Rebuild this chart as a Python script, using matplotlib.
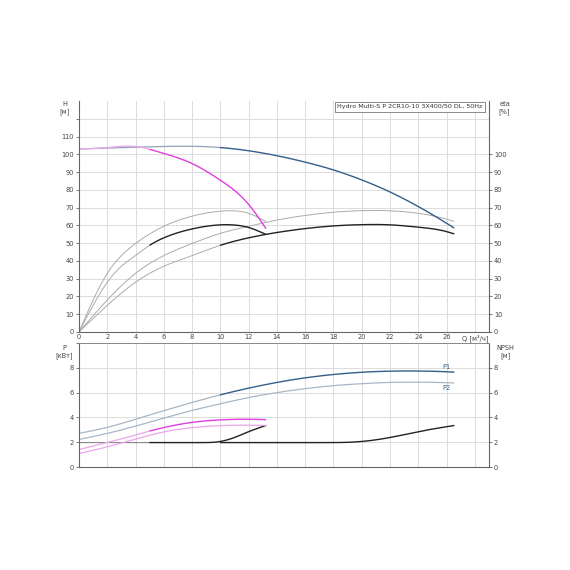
import numpy as np
import matplotlib
matplotlib.use("Agg")
import matplotlib.pyplot as plt

# flow points, m3/h
q_h1 = [0, 2, 4, 5, 6, 8, 10, 12, 13.2]
h_1pump = [103, 103.8, 104.4, 102.8, 100.5, 94.8, 85.4, 71.8, 58.5]
q_h2 = [0, 2, 4, 6, 8, 10, 12, 14, 16, 18, 20, 22, 24, 26, 26.5]
h_2pump = [103, 103.5, 104.0, 104.4, 104.5, 103.8, 102.0, 99.2, 95.6, 91.2, 85.6, 78.8, 70.6, 61.2, 58.7]

# efficiency, %
q_e1 = [0, 1, 2, 3, 4, 6, 8, 10, 11, 12, 13.2]
eta_1pump = [0, 18, 33, 43, 49.8, 59.5, 65.2, 68.0, 68.2, 66.8, 62.2]
q_et1 = [0, 1, 2, 3, 4, 5, 6, 8, 10, 11, 12, 13.2]
etatot_1pump = [0, 15, 28, 37, 43, 48.8, 53.0, 58.0, 60.3, 60.2, 58.8, 55]
q_e2 = [0, 2, 4, 6, 8, 10, 12, 14, 16, 18, 20, 22, 24, 26, 26.5]
eta_2pump = [0, 18, 33, 43, 49.8, 55.5, 59.5, 63.0, 65.6, 67.4, 68.3, 68.2, 66.8, 63.5, 62.3]
q_et2 = [0, 2, 4, 6, 8, 10, 12, 14, 16, 18, 20, 22, 24, 26, 26.5]
etatot_2pump = [0, 15, 28, 37.0, 43.0, 48.8, 53.0, 56.0, 58.2, 59.7, 60.4, 60.3, 59.0, 56.5, 55.3]

# power, kW
q_p = [0, 2, 4, 6, 8, 10, 12, 14, 16, 18, 20, 22, 24, 26, 26.5]
p1_2pump = [2.71, 3.2, 3.85, 4.54, 5.2, 5.82, 6.36, 6.82, 7.19, 7.46, 7.64, 7.73, 7.74, 7.68, 7.65]
p2_2pump = [2.22, 2.71, 3.3, 3.94, 4.56, 5.1, 5.6, 6.0, 6.32, 6.56, 6.72, 6.82, 6.84, 6.8, 6.78]
q_p1 = [0, 2, 4, 5, 6, 8, 10, 12, 13.2]
p1_1pump = [1.41, 1.98, 2.58, 2.9, 3.18, 3.6, 3.8, 3.85, 3.82]
p2_1pump = [1.08, 1.63, 2.25, 2.56, 2.83, 3.17, 3.34, 3.37, 3.35]

# NPSH, m
q_n1 = [0, 5, 8, 9, 9.5, 10, 11, 12, 13.2]
npsh_1pump = [1.97, 1.97, 1.97, 1.97, 1.99, 2.06, 2.38, 2.85, 3.34]
q_n2 = [0, 10, 16, 18, 19, 20, 22, 24, 26.5]
npsh_2pump = [1.97, 1.97, 1.97, 1.97, 1.99, 2.06, 2.38, 2.85, 3.34]

title = "Hydro Multi-S P 2CR10-10 3X400/50 DL, 50Hz"

blue = "#335f8a"
blue_f = "#8ea3b8"
mag = "#e03ee0"
mag_f = "#eaa6ea"
grey = "#ababab"
dark = "#222222"
pcol = "#a8b6c6"


def spline(x, y, n=300):
    # natural cubic spline through the read points
    x = np.asarray(x, float)
    y = np.asarray(y, float)
    k = len(x)
    h = np.diff(x)
    A = np.zeros((k, k))
    r = np.zeros(k)
    A[0, 0] = A[-1, -1] = 1
    for i in range(1, k - 1):
        A[i, i - 1] = h[i - 1]
        A[i, i] = 2 * (h[i - 1] + h[i])
        A[i, i + 1] = h[i]
        r[i] = 6 * ((y[i + 1] - y[i]) / h[i] - (y[i] - y[i - 1]) / h[i - 1])
    M = np.linalg.solve(A, r)
    xs = np.linspace(x[0], x[-1], n)
    j = np.clip(np.searchsorted(x, xs) - 1, 0, k - 2)
    t0 = x[j + 1] - xs
    t1 = xs - x[j]
    hj = h[j]
    ys = (M[j] * t0 ** 3 + M[j + 1] * t1 ** 3) / (6 * hj) \
        + (y[j] / hj - M[j] * hj / 6) * t0 + (y[j + 1] / hj - M[j + 1] * hj / 6) * t1
    return xs, ys


def seg(ax, x, y, x0, x1, **kw):
    xs, ys = spline(x, y)
    m = (xs >= x0 - 1e-9) & (xs <= x1 + 1e-9)
    ax.plot(xs[m], ys[m], **kw)


fig = plt.figure(figsize=(5.7, 5.7), dpi=100)
L, W = 79 / 570, 410 / 570
ax1 = fig.add_axes([L, 1 - 332 / 570, W, 231 / 570])
ax2 = fig.add_axes([L, 1 - 467 / 570, W, 124 / 570])

fs = 4.8
tc = "#444444"

for ax in (ax1, ax2):
    ax.set_xlim(0, 29)
    ax.set_xticks(np.arange(0, 29, 2))
    ax.grid(True, color="#dcdcdc", lw=0.7)
    ax.set_axisbelow(True)
    for s in ("left", "right", "bottom"):
        ax.spines[s].set_color("#666666")
        ax.spines[s].set_linewidth(0.8)
    ax.tick_params(labelsize=fs, colors=tc, length=2, width=0.5, pad=1.5)

# top panel: head and efficiency
ax1.set_ylim(0, 130)
ax1.set_yticks(np.arange(0, 121, 10))
ax1.set_yticklabels([str(v) if v <= 110 else "" for v in range(0, 121, 10)])
ax1.spines["top"].set_visible(False)
ax1.set_xticklabels([str(v) for v in range(0, 28, 2)] + ["Q [м³/ч]"])
ax1.tick_params(axis="x", length=0, pad=1.5)

seg(ax1, q_e1, eta_1pump, 0, 13.2, color=grey, lw=0.7)
seg(ax1, q_e2, eta_2pump, 0, 26.5, color=grey, lw=0.7)
seg(ax1, q_et1, etatot_1pump, 0, 5, color=grey, lw=0.7)
seg(ax1, q_et1, etatot_1pump, 5, 13.2, color=dark, lw=1.0)
seg(ax1, q_et2, etatot_2pump, 0, 10, color=grey, lw=0.7)
seg(ax1, q_et2, etatot_2pump, 10, 26.5, color=dark, lw=1.0)

seg(ax1, q_h2, h_2pump, 0, 10, color=blue_f, lw=0.9)
seg(ax1, q_h2, h_2pump, 10, 26.5, color=blue, lw=1.0)
seg(ax1, q_h1, h_1pump, 0, 5, color=mag_f, lw=0.9)
seg(ax1, q_h1, h_1pump, 5, 13.2, color=mag, lw=1.0)

ax1r = ax1.twinx()
ax1r.set_ylim(0, 130)
ax1r.set_yticks(np.arange(0, 101, 10))
ax1r.tick_params(labelsize=fs, colors=tc, length=2, width=0.5, pad=1.5)
for s in ax1r.spines.values():
    s.set_visible(False)

ax1.text(-0.035, 1.0, "H\n[м]", transform=ax1.transAxes, fontsize=fs,
         color=tc, ha="center", va="top", linespacing=1.3)
ax1.text(1.038, 1.0, "eta\n[%]", transform=ax1.transAxes, fontsize=fs,
         color=tc, ha="center", va="top", linespacing=1.3)
ax1.text(0.985, 0.985, title, transform=ax1.transAxes, fontsize=4.6,
         color="#333333", ha="right", va="top",
         bbox=dict(boxstyle="square,pad=0.35", fc="white", ec="#777777", lw=0.6))

# bottom panel: power and NPSH
ax2.set_ylim(0, 10)
ax2.set_yticks([0, 2, 4, 6, 8, 10])
ax2.set_yticklabels(["0", "2", "4", "6", "8", ""])
ax2.spines["top"].set_color("#888888")
ax2.spines["top"].set_linewidth(0.7)
ax2.tick_params(axis="x", labelbottom=False, length=0)

seg(ax2, q_n1, npsh_1pump, 0, 5, color="#888888", lw=0.8)
seg(ax2, q_n1, npsh_1pump, 5, 13.2, color=dark, lw=1.0)
seg(ax2, q_n2, npsh_2pump, 10, 26.5, color=dark, lw=1.0)

seg(ax2, q_p, p2_2pump, 0, 26.5, color=pcol, lw=0.9)
seg(ax2, q_p, p1_2pump, 0, 10, color=pcol, lw=0.9)
seg(ax2, q_p, p1_2pump, 10, 26.5, color=blue, lw=1.0)
seg(ax2, q_p1, p2_1pump, 0, 13.2, color=mag_f, lw=0.9)
seg(ax2, q_p1, p1_1pump, 0, 5, color=mag_f, lw=0.9)
seg(ax2, q_p1, p1_1pump, 5, 13.2, color=mag, lw=1.0)

ax2.text(26.0, 7.85, "P1", fontsize=fs, color=blue, ha="center", va="bottom")
ax2.text(26.0, 6.65, "P2", fontsize=fs, color=blue, ha="center", va="top")

ax2r = ax2.twinx()
ax2r.set_ylim(0, 10)
ax2r.set_yticks([0, 2, 4, 6, 8])
ax2r.tick_params(labelsize=fs, colors=tc, length=2, width=0.5, pad=1.5)
for s in ax2r.spines.values():
    s.set_visible(False)

ax2.text(-0.035, 0.985, "P\n[кВт]", transform=ax2.transAxes, fontsize=fs,
         color=tc, ha="center", va="top", linespacing=1.3)
ax2.text(1.04, 0.985, "NPSH\n[м]", transform=ax2.transAxes, fontsize=fs,
         color=tc, ha="center", va="top", linespacing=1.3)

fig.savefig("out.png", dpi=100, facecolor="white")
